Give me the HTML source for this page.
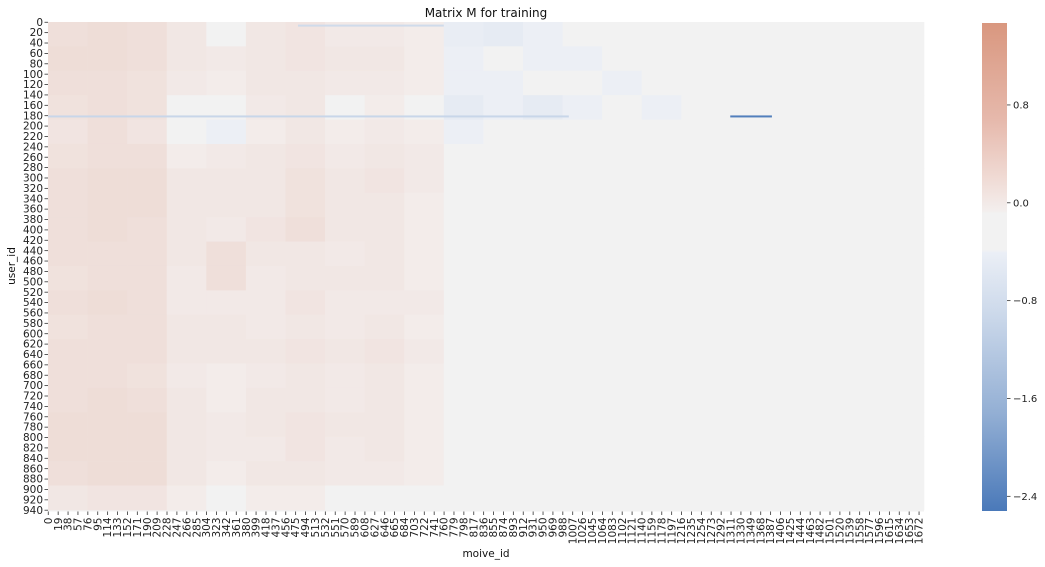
<!DOCTYPE html>
<html><head><meta charset="utf-8">
<style>
html,body{margin:0;padding:0;background:#fff;}
svg{display:block;font-family:"DejaVu Sans","Liberation Sans",sans-serif;}
</style></head>
<body>
<svg id="chart" width="1045" height="567" xmlns="http://www.w3.org/2000/svg">
<defs>
<linearGradient id="cbgrad" x1="0" y1="0" x2="0" y2="1">
<stop offset="0" stop-color="#d9977f"/>
<stop offset="0.2" stop-color="#e6b9ac"/>
<stop offset="0.32" stop-color="#f0dbd5"/>
<stop offset="0.385" stop-color="#f3eeed"/>
<stop offset="0.39" stop-color="#f2f2f2"/>
<stop offset="0.465" stop-color="#f2f2f2"/>
<stop offset="0.47" stop-color="#ebeff6"/>
<stop offset="0.6" stop-color="#cbd8ea"/>
<stop offset="0.8" stop-color="#93afd4"/>
<stop offset="1" stop-color="#4a79b9"/>
</linearGradient>
</defs>
<text x="486" y="17" text-anchor="middle" font-size="12" fill="#111">Matrix M for training</text>
<rect x="48" y="22" width="876" height="489.5" fill="#f2f2f2"/>
<g id="cells"></g>
<g id="xticks"></g>
<g id="yticks"></g>
<text x="486" y="557" text-anchor="middle" font-size="10.5" fill="#111">moive_id</text>
<text transform="translate(15,266) rotate(-90)" text-anchor="middle" font-size="10.5" fill="#111">user_id</text>
<rect x="982" y="23" width="25" height="488" fill="url(#cbgrad)"/>
<g id="cbticks"></g>
</svg>
<script>
// ---- data ----
const nUsers = 943;
const nMovies = 1682;
const userBin = 47;   // users per grid row
const movieBin = 76;  // movies per grid column
// mean value per block (rows: user bins, cols: movie bins)
const grid = [
[.45,.5,.45,.3,.1,.3,.35,.25,.25,.2,-.25,-.3,-.2,-.1,0,0,0,0,0,0,0,0,0],
[.5,.5,.45,.3,.25,.3,.35,.3,.3,.2,-.2,-.1,-.2,-.2,-.1,0,0,0,0,0,0,0,0],
[.45,.45,.4,.25,.2,.3,.3,.25,.25,.2,-.2,-.2,-.1,-.1,-.2,-.1,0,0,0,0,0,0,0],
[.4,.45,.4,.1,-.1,.25,.3,.1,.2,.1,-.3,-.2,-.3,-.2,-.1,-.2,-.1,0,0,0,0,0,0],
[.35,.45,.35,.15,-.2,.2,.3,.2,.25,.2,-.2,-.1,-.1,-.1,0,-.1,0,0,0,0,0,0,0],
[.4,.45,.45,.2,.25,.3,.35,.25,.3,.25,-.1,-.1,-.1,0,0,0,0,0,0,0,0,0,0],
[.45,.5,.5,.3,.3,.3,.4,.3,.35,.25,.1,-.1,0,-.1,0,0,0,0,0,0,0,0,0],
[.45,.5,.5,.3,.3,.3,.4,.3,.3,.2,.1,-.1,-.1,0,0,0,0,0,0,0,0,0,0],
[.45,.5,.45,.3,.25,.35,.45,.3,.3,.2,.1,0,-.1,0,0,0,0,0,0,0,0,0,0],
[.45,.45,.45,.3,.45,.3,.3,.25,.3,.2,-.1,-.1,0,-.1,0,0,0,0,0,0,0,0,0],
[.4,.45,.45,.25,.45,.25,.3,.3,.3,.2,.1,-.1,-.1,0,0,0,0,0,0,0,0,0,0],
[.45,.5,.45,.25,.25,.25,.35,.25,.25,.25,.1,-.1,-.1,-.1,0,0,0,0,0,0,0,0,0],
[.4,.45,.45,.3,.3,.25,.3,.25,.3,.2,-.1,-.1,0,0,0,0,0,0,0,0,0,0,0],
[.45,.45,.45,.3,.3,.3,.35,.3,.35,.25,.1,0,-.1,0,0,0,0,0,0,0,0,0,0],
[.45,.45,.4,.25,.2,.25,.3,.25,.3,.2,-.1,-.1,0,0,0,0,0,0,0,0,0,0,0],
[.45,.5,.45,.3,.2,.3,.3,.25,.3,.2,-.1,-.1,0,-.1,0,0,0,0,0,0,0,0,0],
[.5,.5,.5,.3,.25,.3,.35,.3,.3,.2,-.1,-.1,-.1,0,0,0,0,0,0,0,0,0,0],
[.5,.5,.5,.3,.25,.25,.35,.25,.3,.2,.1,-.1,-.1,-.1,0,0,0,0,0,0,0,0,0],
[.45,.5,.5,.3,.2,.3,.3,.25,.25,.2,-.1,-.1,0,0,0,0,0,0,0,0,0,0,0],
[.3,.35,.35,.2,.1,.2,.2,.1,.1,0,0,0,0,0,0,0,0,0,0,0,0,0,0]
];
// notable single-user streaks: user, first movie, last movie, value
const streakUsers = [180, 180, 5];
const streakFrom = [0, 1310, 480];
const streakTo = [1000, 1390, 760];
const streakValues = [-0.7, -2.4, -0.6];
const yTickStep = 20;
const xTickStep = 19;
const cbTicks = [0.8, 0.0, -0.8, -1.6, -2.4];
const cbMin = -2.52, cbMax = 1.47;

// ---- scales ----
const X0 = 48, X1 = 924, Y0 = 22, Y1 = 511.5;
const xs = m => X0 + m * (X1 - X0) / nMovies;
const ys = u => Y0 + u * (Y1 - Y0) / nUsers;
const cbY = v => 23 + (cbMax - v) / (cbMax - cbMin) * 488;
function lerp(a,b,t){return a.map((x,i)=>Math.round(x+(b[i]-x)*t));}
// block colour: mean tint of speckled region (lighter than a solid cell)
function blockColor(v){
  if (Math.abs(v) < 0.2) return 'rgb(242,242,242)';
  if (v > 0){const t=Math.min(1,(v-0.2)/1.27)*0.75;return 'rgb('+lerp([243,236,234],[217,151,127],t).join(',')+')';}
  const t=Math.min(1,(-v-0.2)/2.32)*0.8;return 'rgb('+lerp([236,239,245],[74,121,185],t).join(',')+')';
}
function color(v){
  if (Math.abs(v) < 0.2) return 'rgb(242,242,242)';
  if (v > 0){const t=Math.min(1,(v-0.2)/1.27);return 'rgb('+lerp([244,230,227],[217,151,127],t).join(',')+')';}
  const t=Math.min(1,(-v-0.2)/2.32);return 'rgb('+lerp([235,239,246],[74,121,185],t).join(',')+')';
}
const NS='http://www.w3.org/2000/svg';
function mk(tag, attrs){const e=document.createElementNS(NS,tag);for(const k in attrs)e.setAttribute(k,attrs[k]);return e;}

const cells=document.getElementById('cells');
grid.forEach((row,r)=>{
  row.forEach((v,c)=>{
    const m0=c*movieBin, m1=Math.min(nMovies,(c+1)*movieBin);
    const u0=r*userBin, u1=Math.min(nUsers,(r+1)*userBin);
    if(m0>=nMovies||u0>=nUsers) return;
    const rc=mk('rect',{x:xs(m0),y:ys(u0),width:xs(m1)-xs(m0)+0.3,height:ys(u1)-ys(u0)+0.3,fill:blockColor(v)});
    
    
    cells.appendChild(rc);
  });
});
streakUsers.forEach((u,i)=>{
  const rc=mk('rect',{x:xs(streakFrom[i]),y:ys(u),width:xs(streakTo[i])-xs(streakFrom[i]),height:2,fill:color(streakValues[i])});
  
  
  cells.appendChild(rc);
});

const xt=document.getElementById('xticks');
for(let m=0;m<nMovies;m+=xTickStep){
  const x=xs(m+0.5);
  const ln=mk('line',{x1:x,x2:x,y1:Y1,y2:Y1+3.5,stroke:'#333','stroke-width':0.8});
  
  
  xt.appendChild(ln);
  const t=mk('text',{transform:'translate('+(x+3.6)+','+(Y1+6)+') rotate(-90)','text-anchor':'end','font-size':'10.5',fill:'#222'});
  t.textContent=m;
  
  
  xt.appendChild(t);
}
const yt=document.getElementById('yticks');
for(let u=0;u<nUsers;u+=yTickStep){
  const y=ys(u+0.5);
  const ln=mk('line',{x1:X0-3.5,x2:X0,y1:y,y2:y,stroke:'#333','stroke-width':0.8});
  
  
  yt.appendChild(ln);
  const t=mk('text',{x:X0-5,y:y+3.6,'text-anchor':'end','font-size':'10.5',fill:'#222'});
  t.textContent=u;
  
  
  yt.appendChild(t);
}
const cb=document.getElementById('cbticks');
cbTicks.forEach(v=>{
  const y=cbY(v);
  const ln=mk('line',{x1:1007,x2:1010.5,y1:y,y2:y,stroke:'#333','stroke-width':0.8});
  
  
  cb.appendChild(ln);
  const t=mk('text',{x:1013,y:y+3.6,'font-size':'10',fill:'#222'});
  t.textContent=(v<0?'\u2212'+Math.abs(v).toFixed(1):v.toFixed(1));
  
  
  cb.appendChild(t);
});
</script>
</body></html>
